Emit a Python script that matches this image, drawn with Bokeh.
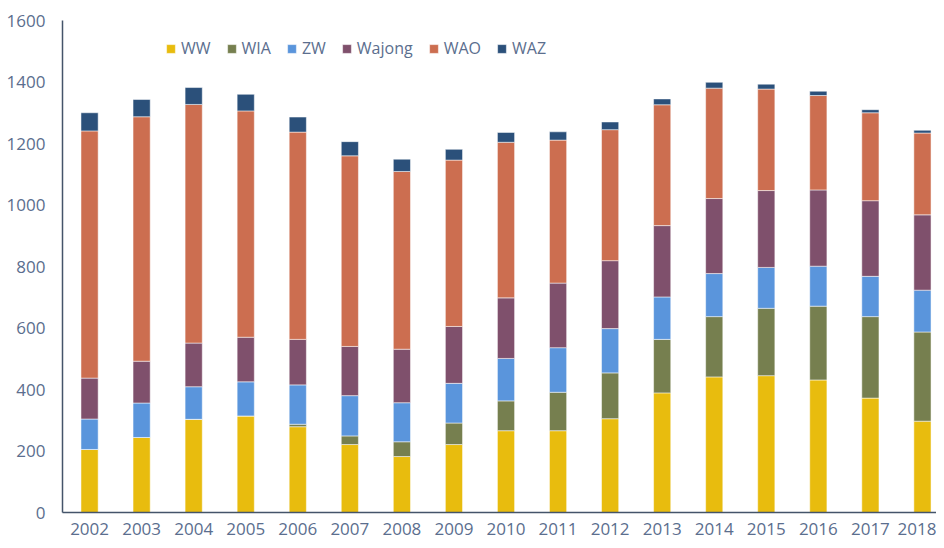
from bokeh.plotting import figure
from bokeh.models import Range1d, FixedTicker, Legend, LegendItem, ColumnDataSource
from bokeh.embed import file_html
from bokeh.resources import INLINE

years = [2002, 2003, 2004, 2005, 2006, 2007, 2008, 2009, 2010, 2011, 2012, 2013, 2014, 2015, 2016, 2017, 2018]
ww     = [205, 244, 303, 314, 279, 221, 182, 221, 266, 266, 305, 389, 441, 445, 431, 372, 297]
wia    = [0, 0, 0, 0, 8, 28, 48, 70, 97, 125, 149, 174, 196, 219, 240, 265, 290]
zw     = [99, 112, 106, 111, 128, 131, 127, 129, 138, 145, 144, 138, 140, 133, 130, 131, 136]
wajong = [133, 136, 142, 145, 148, 160, 174, 185, 197, 210, 221, 232, 244, 250, 248, 246, 245]
wao    = [804, 795, 776, 736, 674, 620, 578, 541, 506, 465, 426, 393, 359, 330, 307, 286, 266]
waz    = [59, 56, 55, 54, 49, 46, 40, 35, 32, 27, 25, 19, 19, 16, 14, 10, 9]
series = ["WW", "WIA", "ZW", "Wajong", "WAO", "WAZ"]
colors = ["#E8BC0E", "#767F4F", "#5A95DC", "#7F506C", "#CC6E50", "#2B507A"]
yticks = [0, 200, 400, 600, 800, 1000, 1200, 1400, 1600]

src = ColumnDataSource(dict(year=years, WW=ww, WIA=wia, ZW=zw, Wajong=wajong, WAO=wao, WAZ=waz))

FONT = "Open Sans"
TXT = "#5B6E8E"
AX = "#44546A"

p = figure(width=936, height=540, output_backend="svg", toolbar_location=None,
           x_range=Range1d(2001.48, 2018.27), y_range=Range1d(0, 1600),
           min_border_left=62, min_border_right=0, min_border_top=20, min_border_bottom=28)

r = p.vbar_stack(series, x="year", width=0.33, source=src, color=colors,
                 line_color="white", line_alpha=0.5, line_width=1)

p.xgrid.visible = False
p.ygrid.visible = False
p.outline_line_color = None

for ax in (p.xaxis[0], p.yaxis[0]):
    ax.axis_line_color = AX
    ax.axis_line_width = 1.5
    ax.major_tick_line_color = None
    ax.minor_tick_line_color = None
    ax.major_tick_out = 0
    ax.major_tick_in = 0
    ax.major_label_text_font = FONT
    ax.major_label_text_font_size = "17px"
    ax.major_label_text_color = TXT

p.yaxis[0].major_label_standoff = 17
p.xaxis[0].major_label_standoff = 10
p.xaxis[0].ticker = FixedTicker(ticks=years)
p.yaxis[0].ticker = FixedTicker(ticks=yticks)

legend = Legend(items=[LegendItem(label=s, renderers=[rr]) for s, rr in zip(series, r)],
                orientation="horizontal", location=(103, 453),
                background_fill_alpha=0, border_line_color=None,
                glyph_width=11, glyph_height=11, label_standoff=5, spacing=15,
                padding=0, margin=0,
                label_text_font=FONT, label_text_font_size="16px", label_text_color=TXT)
p.add_layout(legend, "center")

open("out.html", "w").write(file_html(p, INLINE))
